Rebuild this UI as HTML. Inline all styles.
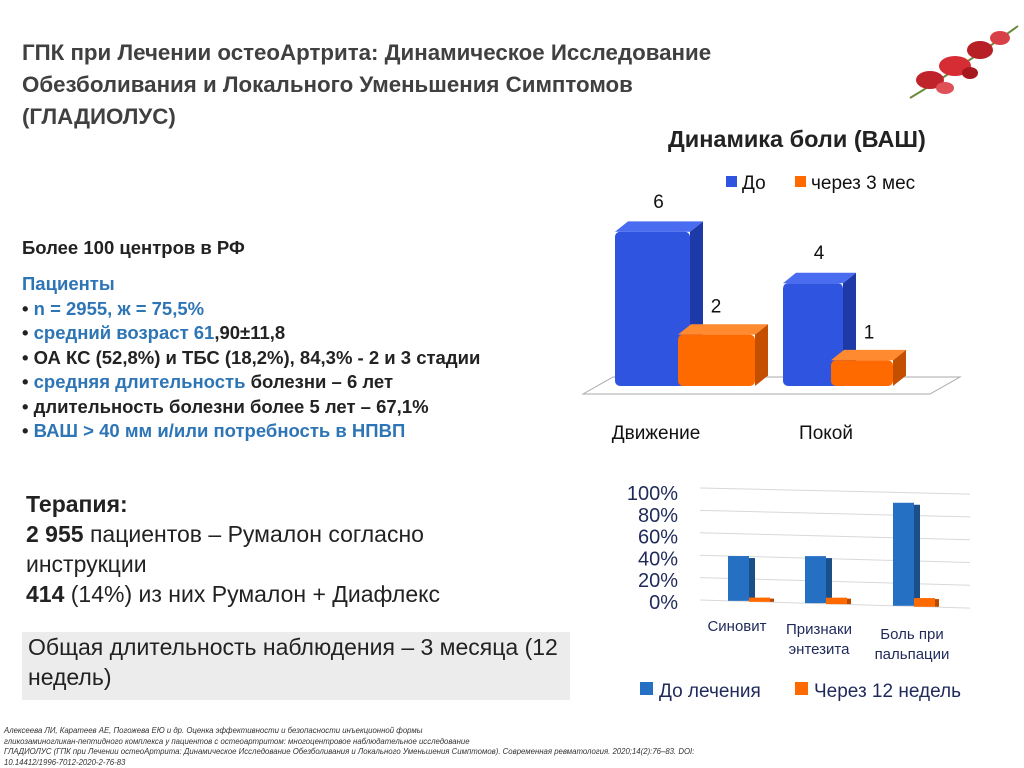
<!DOCTYPE html>
<html><head><meta charset="utf-8"><style>
body{margin:0;width:1024px;height:767px;background:#fff;position:relative;overflow:hidden;font-family:"Liberation Sans","Noto Sans CJK SC",sans-serif}
.a{position:absolute;white-space:nowrap}
#title{left:22px;top:37px;font-size:22.3px;font-weight:bold;color:#404040;line-height:32px}
.b{font-size:18.5px;font-weight:bold;color:#222;line-height:24.5px}
.blue{color:#2e75b6}
.t{font-size:23px;color:#222;line-height:30px}
#foot{left:4px;top:726px;font-size:7.8px;font-style:italic;color:#333;line-height:10.5px}
</style></head><body>
<div class="a" id="title">ГПК при Лечении остеоАртрита: Динамическое Исследование<br>Обезболивания и Локального Уменьшения Симптомов<br>(ГЛАДИОЛУС)</div>
<svg class="a" style="left:900px;top:18px" width="124" height="90">
<path d="M10 80 Q60 50 118 8" stroke="#6a8a3a" stroke-width="2" fill="none"/>
<ellipse cx="30" cy="62" rx="14" ry="9" fill="#c0242b"/><ellipse cx="55" cy="48" rx="16" ry="10" fill="#d62c33"/>
<ellipse cx="80" cy="32" rx="13" ry="9" fill="#b81e26"/><ellipse cx="100" cy="20" rx="10" ry="7" fill="#d84048"/>
<ellipse cx="45" cy="70" rx="9" ry="6" fill="#e05058"/><ellipse cx="70" cy="55" rx="8" ry="6" fill="#a8181f"/>
</svg>
<div class="a" style="left:668px;top:126px;font-size:23.5px;font-weight:bold;color:#222">Динамика боли (ВАШ)</div>
<div class="a b" style="left:22px;top:236px">Более 100 центров в РФ</div>
<div class="a b" style="left:22px;top:272px"><span class="blue">Пациенты</span><br>• <span class="blue">n = 2955, ж = 75,5%</span><br>• <span class="blue">средний возраст 61</span>,90±11,8<br>• ОА КС (52,8%) и ТБС (18,2%), 84,3% - 2 и 3 стадии<br>• <span class="blue">средняя длительность</span> болезни – 6 лет<br>• длительность болезни более 5 лет – 67,1%<br>• <span class="blue">ВАШ &gt; 40 мм и/или потребность в НПВП</span></div>
<div class="a t" style="left:26px;top:489px"><b>Терапия:</b><br><b>2 955</b> пациентов – Румалон согласно<br>инструкции<br><b>414</b> (14%) из них Румалон + Диафлекс</div>
<div class="a t" style="left:22px;top:632px;width:542px;height:68px;background:#ececec;padding-left:6px;white-space:normal">Общая длительность наблюдения – 3 месяца (12 недель)</div>
<div class="a" id="foot">Алексеева ЛИ, Каратеев АЕ, Погожева ЕЮ и др. Оценка эффективности и безопасности инъекционной формы<br>гликозаминогликан-пептидного комплекса у пациентов с остеоартритом: многоцентровое наблюдательное исследование<br>ГЛАДИОЛУС (ГПК при Лечении остеоАртрита: Динамическое Исследование Обезболивания и Локального Уменьшения Симптомов). Современная ревматология. 2020;14(2):76–83. DOI:<br>10.14412/1996-7012-2020-2-76-83</div>
<svg class="a" style="left:0;top:0" width="1024" height="767" id="charts"></svg>
<script>
const ns="http://www.w3.org/2000/svg";
const svg=document.getElementById('charts');
function mk(t,a,p){const e=document.createElementNS(ns,t);for(const k in a)e.setAttribute(k,a[k]);(p||svg).appendChild(e);return e;}
// top chart data
const painCats=["Движение","Покой"];
const painBefore=[6,4];
const painAfter=[2,1];
const painLegend=["До","через 3 мес"];
// bottom chart data
const symCats=[["Синовит"],["Признаки","энтезита"],["Боль при","пальпации"]];
const symBefore=[40,42,92];
const symAfter=[2,4,6];
const symTicks=["0%","20%","40%","60%","80%","100%"];
const symLegend=["До лечения","Через 12 недель"];

// ---- top chart
const base=386,unit=25.7;
const py=v=>base-v*unit;
mk('polygon',{points:"583,394 613,377 960,377 930,394",fill:"#fff",stroke:"#aaa"});
const g1x=[615,783],g1w=[75,60];
function bar3d(x,w,v,front,side,top,name){
  const g=mk('g',{});
  
  
  const y=py(v),d=13;
  mk('path',{d:`M${x+w} ${y} l${d} ${-d*0.8} V${base-d*0.8} l${-d} ${d*0.8}Z`,fill:side},g);
  mk('path',{d:`M${x} ${y} l${d} ${-d*0.8} h${w} l${-d} ${d*0.8}Z`,fill:top},g);
  mk('rect',{x:x,y:y,width:w,height:base-y,rx:5,fill:front},g);
}
painCats.forEach((c,i)=>{
  const x=g1x[i],w=g1w[i];
  bar3d(x,w,painBefore[i],"#2f54e0","#1e3aa8","#4a6cf0","bar-before-"+i);
  bar3d(x+w-12,w+2,painAfter[i],"#ff6a00","#c44f00","#ff8a30","bar-after-"+i);
  const l1=mk('text',{x:x+w/2+6,y:py(painBefore[i])-24,"font-size":19,"text-anchor":"middle",fill:"#111"});l1.textContent=painBefore[i];
  
  
  const l2=mk('text',{x:x+w+26,y:py(painAfter[i])-22,"font-size":19,"text-anchor":"middle",fill:"#111"});l2.textContent=painAfter[i];
  
  
  const t=mk('text',{x:[656,826][i],y:439,"font-size":19,"text-anchor":"middle",fill:"#111"});t.textContent=c;
  
  
});
[[726,"#2f54e0",0],[795,"#ff6a00",1]].forEach(([x,col,i])=>{
  const r=mk('rect',{x:x,y:176,width:11,height:11,fill:col});
  
  
  const t=mk('text',{x:x+16,y:189,"font-size":19,fill:"#111"});t.textContent=painLegend[i];
  
  
});

// ---- bottom chart
const bx0=700,bx1=970,slope=0.03,pu=1.12;
const by=(x,v)=>600+(x-bx0)*slope-v*pu;
symTicks.forEach((t,i)=>{
  const v=i*20;
  mk('line',{x1:bx0,y1:by(bx0,v),x2:bx1,y2:by(bx1,v)-v*0.02,stroke:"#d8d8d8"});
  const tx=mk('text',{x:678,y:609-i*21.8,"font-size":20,"text-anchor":"end",fill:"#1f2a5a"});tx.textContent=t;
  
  
});
const sx=[728,805,893];
symCats.forEach((c,i)=>{
  const x=sx[i],w=21,b0=by(x,0);
  const g=mk('g',{});
  
  
  const top=b0-symBefore[i]*pu;
  mk('rect',{x:x+w,y:top+2,width:6,height:b0-top-2,fill:"#1a4f8a"},g);
  mk('rect',{x:x,y:top,width:w,height:b0-top,fill:"#2670c4"},g);
  const g2=mk('g',{});
  
  
  const ox=x+w,b2=b0+1,t2=b2-symAfter[i]*pu-2;
  mk('rect',{x:ox+w,y:t2+1,width:4,height:b2-t2-1,fill:"#b84a00"},g2);
  mk('rect',{x:ox,y:t2,width:w,height:b2-t2,fill:"#ff6a00"},g2);
  c.forEach((s,j)=>{
    const t=mk('text',{x:[737,819,912][i],y:[631,634,639][i]+j*20,"font-size":15,"text-anchor":"middle",fill:"#1f2a5a"});t.textContent=s;
    
    
  });
});
[[640,"#2670c4",0],[795,"#ff6a00",1]].forEach(([x,col,i])=>{
  const r=mk('rect',{x:x,y:682,width:13,height:13,fill:col});
  
  
  const t=mk('text',{x:x+19,y:697,"font-size":19,fill:"#1f2a5a"});t.textContent=symLegend[i];
  
  
});
</script>
</body></html>
